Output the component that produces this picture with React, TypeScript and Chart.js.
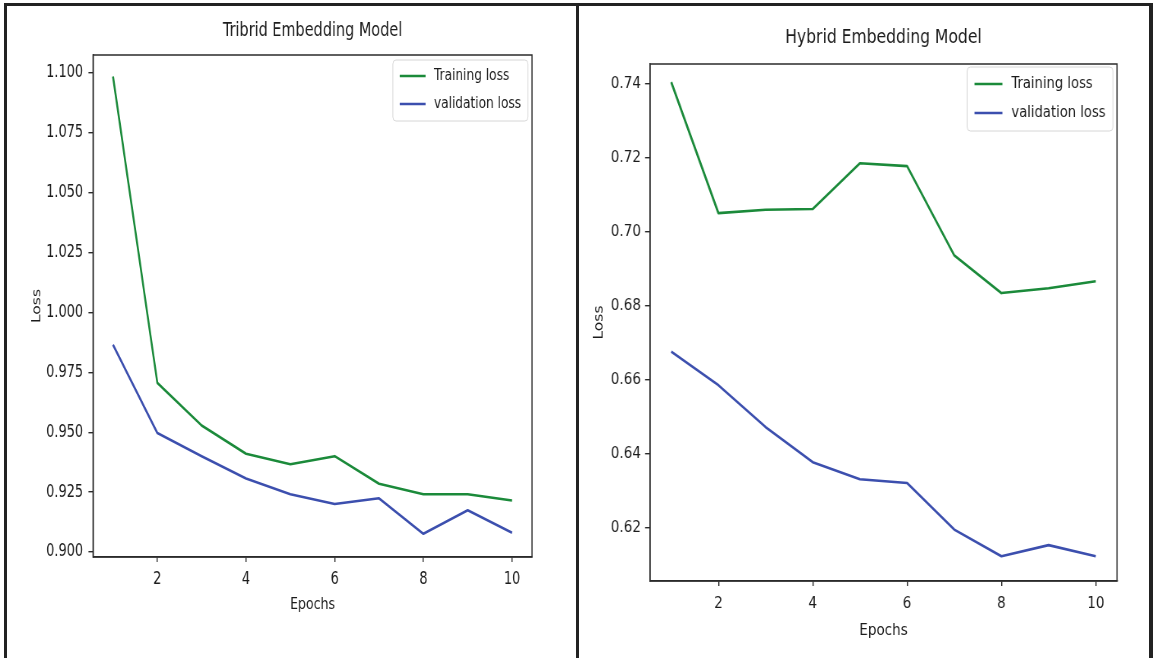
import React, { useEffect, useRef } from "react";
import { Chart, registerables } from "chart.js";

Chart.register(...registerables);

// ---------------- data ----------------
const epochs = [1, 2, 3, 4, 5, 6, 7, 8, 9, 10];
const seriesLabels = ["Training loss", "validation loss"];
const panelTitles = ["Tribrid Embedding Model", "Hybrid Embedding Model"];

const tribridTraining = [1.0985, 0.9706, 0.9528, 0.941, 0.9366, 0.94, 0.9285, 0.9241, 0.9241, 0.9215];
const tribridValidation = [0.9865, 0.9497, 0.94, 0.9307, 0.9241, 0.92, 0.9224, 0.9076, 0.9174, 0.908];

const hybridTraining = [0.7405, 0.7051, 0.706, 0.7062, 0.7186, 0.7178, 0.6937, 0.6835, 0.6848, 0.6867];
const hybridValidation = [0.6677, 0.6586, 0.6473, 0.6378, 0.6332, 0.6322, 0.6196, 0.6124, 0.6154, 0.6124];

const xTicks = [2, 4, 6, 8, 10];
const tribridYTicks = [0.9, 0.925, 0.95, 0.975, 1.0, 1.025, 1.05, 1.075, 1.1];
const hybridYTicks = [0.62, 0.64, 0.66, 0.68, 0.7, 0.72, 0.74];

// ---------------- styles ----------------
const FONT = "'DejaVu Sans', 'Noto Sans', sans-serif";
const TEXT = "#1c1c1c";
const SPINE = "#2b2b2b";
const GREEN = "#1b8a3a";
const BLUE = "#3c4fae";
const PAGE_H = 658;

type PanelCfg = {
  pageLeft: number;
  pageWidth: number;
  squeeze: number;
  area: { left: number; right: number; top: number; bottom: number };
  xMin: number;
  xMax: number;
  yMin: number;
  yMax: number;
  decimals: number;
  yTicks: number[];
  title: string;
  train: number[];
  valid: number[];
  titleY: number;
  tickFont: number;
  yTitlePad: number;
  yTickPad: number;
  xTickPad: number;
  xAxisH: number;
  xTitlePad: number;
  legend: { inset: number; insetTop: number; padX: number; handle: number; textGap: number; padTop: number; rowGap: number; padBottom: number };
};

const panels: PanelCfg[] = [
  {
    pageLeft: 0,
    pageWidth: 578,
    squeeze: 0.76,
    area: { left: 122.4, right: 700, top: 55, bottom: 557 },
    xMin: 0.55,
    xMax: 10.45,
    yMin: 0.8979,
    yMax: 1.1075,
    decimals: 3,
    yTicks: tribridYTicks,
    title: panelTitles[0],
    train: tribridTraining,
    valid: tribridValidation,
    titleY: 31,
    tickFont: 17,
    yTitlePad: 40,
    yTickPad: 7,
    xTickPad: 7,
    xAxisH: 64,
    xTitlePad: 6.4,
    legend: { inset: 5.3, insetTop: 5, padX: 9, handle: 34, textGap: 11, padTop: 16, rowGap: 28, padBottom: 17 },
  },
  {
    pageLeft: 578,
    pageWidth: 575,
    squeeze: 0.82,
    area: { left: 87.8, right: 657.3, top: 64, bottom: 581 },
    xMin: 0.55,
    xMax: 10.45,
    yMin: 0.6057,
    yMax: 0.7454,
    decimals: 2,
    yTicks: hybridYTicks,
    title: panelTitles[1],
    train: hybridTraining,
    valid: hybridValidation,
    titleY: 38,
    tickFont: 16.5,
    yTitlePad: 17,
    yTickPad: 5,
    xTickPad: 8,
    xAxisH: 64,
    xTitlePad: 4.4,
    legend: { inset: 5, insetTop: 3, padX: 9, handle: 34, textGap: 11, padTop: 17, rowGap: 29, padBottom: 18 },
  },
];

const decorPlugin = {
  id: "mplDecor",
  afterDraw(chart: any) {
    const o = chart.options.plugins.mplDecor;
    if (!o) return;
    const ctx = chart.ctx as CanvasRenderingContext2D;
    const a = chart.chartArea;
    ctx.save();
    // spines
    ctx.strokeStyle = SPINE;
    ctx.lineWidth = 1.5;
    ctx.strokeRect(a.left, a.top, a.right - a.left, a.bottom - a.top);
    // title
    ctx.fillStyle = TEXT;
    ctx.font = `19px ${FONT}`;
    ctx.textAlign = "center";
    ctx.textBaseline = "middle";
    ctx.fillText(o.title, (a.left + a.right) / 2, o.titleY);
    // legend
    const L = o.legend;
    ctx.font = `16px ${FONT}`;
    const ds = chart.data.datasets;
    const textW = Math.max(...ds.map((d: any) => ctx.measureText(d.label).width));
    const boxW = L.padX * 2 + L.handle + L.textGap + textW;
    const boxRight = a.right - L.inset;
    const boxLeft = boxRight - boxW;
    const boxTop = a.top + L.insetTop;
    const boxH = L.padTop + L.rowGap * (ds.length - 1) + L.padBottom;
    ctx.beginPath();
    (ctx as any).roundRect(boxLeft, boxTop, boxW, boxH, 4);
    ctx.fillStyle = "rgba(255,255,255,0.85)";
    ctx.fill();
    ctx.strokeStyle = "#d6d6d6";
    ctx.lineWidth = 1;
    ctx.stroke();
    ds.forEach((d: any, i: number) => {
      const y = boxTop + L.padTop + i * L.rowGap;
      ctx.beginPath();
      ctx.moveTo(boxLeft + L.padX, y);
      ctx.lineTo(boxLeft + L.padX + L.handle, y);
      ctx.strokeStyle = d.borderColor;
      ctx.lineWidth = 2.6;
      ctx.stroke();
      ctx.fillStyle = TEXT;
      ctx.textAlign = "left";
      ctx.textBaseline = "middle";
      ctx.fillText(d.label, boxLeft + L.padX + L.handle + L.textGap, y);
    });
    ctx.restore();
  },
};

function Panel({ cfg }: { cfg: PanelCfg }) {
  const ref = useRef<HTMLCanvasElement | null>(null);
  const logicalW = Math.round(cfg.pageWidth / cfg.squeeze);

  useEffect(() => {
    if (!ref.current) return;
    const chart = new Chart(ref.current, {
      type: "line",
      data: {
        datasets: [
          {
            label: seriesLabels[0],
            data: epochs.map((e, i) => ({ x: e, y: cfg.train[i] })),
            borderColor: GREEN,
            backgroundColor: GREEN,
            borderWidth: 2.6,
            pointRadius: 0,
            tension: 0,
            borderJoinStyle: "round",
          },
          {
            label: seriesLabels[1],
            data: epochs.map((e, i) => ({ x: e, y: cfg.valid[i] })),
            borderColor: BLUE,
            backgroundColor: BLUE,
            borderWidth: 2.6,
            pointRadius: 0,
            tension: 0,
            borderJoinStyle: "round",
          },
        ],
      },
      options: {
        responsive: false,
        animation: false,
        devicePixelRatio: 1,
        events: [],
        layout: {
          padding: {
            left: 0,
            right: logicalW - cfg.area.right,
            top: cfg.area.top,
            bottom: PAGE_H - cfg.area.bottom - cfg.xAxisH,
          },
        },
        scales: {
          x: {
            type: "linear",
            min: cfg.xMin,
            max: cfg.xMax,
            afterBuildTicks: (s: any) => {
              s.ticks = xTicks.map((v) => ({ value: v }));
            },
            afterFit: (s: any) => {
              s.height = cfg.xAxisH;
            },
            ticks: {
              color: TEXT,
              font: { family: FONT, size: cfg.tickFont },
              padding: cfg.xTickPad,
              maxRotation: 0,
              autoSkip: false,
              callback: (v: any) => String(v),
            },
            grid: { display: true, drawOnChartArea: false, drawTicks: true, tickLength: 5, color: SPINE, lineWidth: 1.4 },
            border: { display: true, color: SPINE, width: 1.5 },
            title: {
              display: true,
              text: "Epochs",
              color: TEXT,
              font: { family: FONT, size: 16.5 },
              padding: { top: 0, bottom: cfg.xTitlePad },
            },
          },
          y: {
            type: "linear",
            min: cfg.yMin,
            max: cfg.yMax,
            afterBuildTicks: (s: any) => {
              s.ticks = cfg.yTicks.map((v) => ({ value: v }));
            },
            afterFit: (s: any) => {
              s.width = cfg.area.left;
            },
            ticks: {
              color: TEXT,
              font: { family: FONT, size: cfg.tickFont },
              padding: cfg.yTickPad,
              autoSkip: false,
              callback: (v: any) => Number(v).toFixed(cfg.decimals),
            },
            grid: { display: true, drawOnChartArea: false, drawTicks: true, tickLength: 6, color: SPINE, lineWidth: 1.4 },
            border: { display: true, color: SPINE, width: 1.5 },
            title: {
              display: true,
              text: "Loss",
              color: TEXT,
              font: { family: FONT, size: 15.5 },
              padding: { top: cfg.yTitlePad, bottom: 0 },
            },
          },
        },
        plugins: {
          legend: { display: false },
          title: { display: false },
          tooltip: { enabled: false },
          mplDecor: { title: cfg.title, titleY: cfg.titleY, legend: cfg.legend },
        } as any,
      },
      plugins: [decorPlugin],
    } as any);
    return () => chart.destroy();
  }, [cfg, logicalW]);

  return (
    <div
      style={{
        position: "absolute",
        left: cfg.pageLeft,
        top: 0,
        width: cfg.pageWidth,
        height: PAGE_H,
        overflow: "hidden",
      }}
    >
      <canvas
        ref={ref}
        width={logicalW}
        height={PAGE_H}
        style={{
          position: "absolute",
          left: 0,
          top: 0,
          width: logicalW,
          height: PAGE_H,
          transform: `scaleX(${cfg.squeeze})`,
          transformOrigin: "0 0",
        }}
      />
    </div>
  );
}

export default function App() {
  const line = (s: React.CSSProperties) => (
    <div style={{ position: "absolute", background: "#222", ...s }} />
  );
  return (
    <div
      style={{
        position: "absolute",
        left: 0,
        top: 0,
        width: 1153,
        height: PAGE_H,
        background: "#ffffff",
        overflow: "hidden",
      }}
    >
      {panels.map((p, i) => (
        <Panel key={i} cfg={p} />
      ))}
      {line({ left: 4, top: 3, width: 1149, height: 3 })}
      {line({ left: 4, top: 3, width: 3, height: PAGE_H })}
      {line({ left: 576, top: 3, width: 3, height: PAGE_H })}
      {line({ left: 1149, top: 3, width: 4, height: PAGE_H })}
    </div>
  );
}
